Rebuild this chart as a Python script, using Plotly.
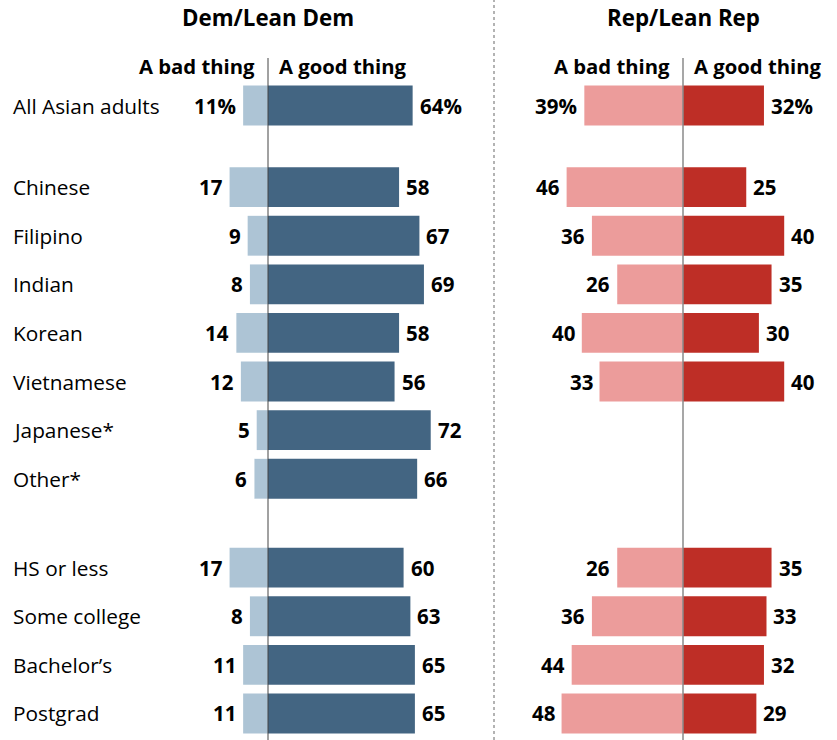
import plotly.graph_objects as go

# ---------------- data ----------------
groups = [
    ["All Asian adults"],
    ["Chinese", "Filipino", "Indian", "Korean", "Vietnamese", "Japanese*", "Other*"],
    ["HS or less", "Some college", "Bachelor\u2019s", "Postgrad"],
]
categories = [c for g in groups for c in g]

dem_bad = [11, 17, 9, 8, 14, 12, 5, 6, 17, 8, 11, 11]
dem_good = [64, 58, 67, 69, 58, 56, 72, 66, 60, 63, 65, 65]
rep_bad = [39, 46, 36, 26, 40, 33, None, None, 26, 36, 44, 48]
rep_good = [32, 25, 40, 35, 30, 40, None, None, 35, 33, 32, 29]

panel_titles = ["Dem/Lean Dem", "Rep/Lean Rep"]
side_labels = ["A bad thing", "A good thing"]

# ---------------- layout constants ----------------
W, H = 837, 740
FONT = "'Open Sans', 'Liberation Sans', Arial, sans-serif"
C_DARK_BLUE = "#436582"
C_LIGHT_BLUE = "#adc4d5"
C_DARK_RED = "#be2e26"
C_LIGHT_RED = "#ec9c9b"

group_gaps = [0, 0.68, 0.83]  # extra space before each group (in rows)
row_px = 48.6
first_row_px = 105.5

# y positions (rows)
ypos = []
y = 0.0
for gi, g in enumerate(groups):
    if gi > 0:
        y += 1 + group_gaps[gi]
    for i, _ in enumerate(g):
        if i > 0:
            y += 1
        ypos.append(y)

y_top = -first_row_px / row_px
y_bot = (H - first_row_px) / row_px

# x scales (px per unit) and centers
left_center, left_scale = 268, 2.26
right_center, right_scale = 683, 2.53
x1_range = [-left_center / left_scale, (W - left_center) / left_scale]
x2_range = [-right_center / right_scale, (W - right_center) / right_scale]

fig = go.Figure()


def add_bars(vals_bad, vals_good, xa, c_bad, c_good):
    yb = [yy for yy, v in zip(ypos, vals_bad) if v is not None]
    vb = [-v for v in vals_bad if v is not None]
    yg = [yy for yy, v in zip(ypos, vals_good) if v is not None]
    vg = [v for v in vals_good if v is not None]
    fig.add_trace(go.Bar(x=vb, y=yb, orientation="h", marker=dict(color=c_bad, line=dict(width=0)),
                         width=0.82, xaxis=xa, yaxis="y", hoverinfo="skip", showlegend=False))
    fig.add_trace(go.Bar(x=vg, y=yg, orientation="h", marker=dict(color=c_good, line=dict(width=0)),
                         width=0.82, xaxis=xa, yaxis="y", hoverinfo="skip", showlegend=False))


add_bars(dem_bad, dem_good, "x", C_LIGHT_BLUE, C_DARK_BLUE)
add_bars(rep_bad, rep_good, "x2", C_LIGHT_RED, C_DARK_RED)

annotations = []
val_font = dict(family=FONT, size=20.5, color="#000000")


def add_value_labels(vals_bad, vals_good, xref):
    for i, (b, g) in enumerate(zip(vals_bad, vals_good)):
        suffix = "%" if i == 0 else ""
        if b is not None:
            annotations.append(dict(x=-b, y=ypos[i], xref=xref, yref="y", text=f"<b>{b}{suffix}</b>",
                                    showarrow=False, xanchor="right", yanchor="middle", xshift=-5,
                                    font=val_font))
        if g is not None:
            annotations.append(dict(x=g, y=ypos[i], xref=xref, yref="y", text=f"<b>{g}{suffix}</b>",
                                    showarrow=False, xanchor="left", yanchor="middle", xshift=5,
                                    font=val_font))


add_value_labels(dem_bad, dem_good, "x")
add_value_labels(rep_bad, rep_good, "x2")

# category labels
for i, c in enumerate(categories):
    annotations.append(dict(x=11 / W, y=ypos[i], xref="paper", yref="y", text=c, showarrow=False,
                            xanchor="left", yanchor="middle",
                            font=dict(family=FONT, size=20.8, color="#000000")))

# panel headers
for xref, title in zip(["x", "x2"], panel_titles):
    annotations.append(dict(x=0, y=1 - 18 / H, xref=xref, yref="paper", text=f"<b>{title}</b>",
                            showarrow=False, xanchor="center", yanchor="middle",
                            font=dict(family=FONT, size=22.3, color="#000000")))
    annotations.append(dict(x=0, y=1 - 66 / H, xref=xref, yref="paper", text=f"<b>{side_labels[0]}</b>",
                            showarrow=False, xanchor="right", yanchor="middle", xshift=-11,
                            font=dict(family=FONT, size=20.3, color="#000000")))
    annotations.append(dict(x=0, y=1 - 66 / H, xref=xref, yref="paper", text=f"<b>{side_labels[1]}</b>",
                            showarrow=False, xanchor="left", yanchor="middle", xshift=9,
                            font=dict(family=FONT, size=20.3, color="#000000")))

shapes = [
    dict(type="line", xref="x", yref="paper", x0=0, x1=0, y0=0, y1=1 - 58 / H,
         line=dict(color="#444444", width=1)),
    dict(type="line", xref="x2", yref="paper", x0=0, x1=0, y0=0, y1=1 - 58 / H,
         line=dict(color="#8a8a8a", width=1.5)),
    dict(type="line", xref="paper", yref="paper", x0=494 / W, x1=494 / W, y0=0, y1=1,
         line=dict(color="#9a9a9a", width=1.5, dash="dot")),
]

fig.update_layout(
    width=W, height=H,
    margin=dict(l=0, r=0, t=0, b=0),
    paper_bgcolor="white", plot_bgcolor="white",
    barmode="overlay",
    xaxis=dict(range=x1_range, domain=[0, 1], visible=False, fixedrange=True),
    xaxis2=dict(range=x2_range, domain=[0, 1], overlaying="x", visible=False, fixedrange=True),
    yaxis=dict(range=[y_bot, y_top], visible=False, fixedrange=True),
    annotations=annotations,
    shapes=shapes,
    showlegend=False,
)

fig.write_html(
    "out.html",
    config={"displayModeBar": False},
    post_script="document.body.style.margin='0';document.body.style.overflow='hidden';",
)
